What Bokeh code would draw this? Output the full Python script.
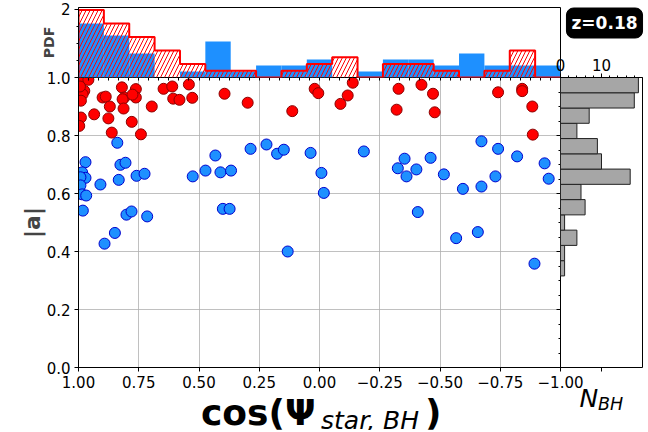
import numpy as np
from bokeh.plotting import figure
from bokeh.layouts import column
from bokeh.models import (Range1d, FixedTicker, LinearAxis, Label,
                          CustomJSTickFormatter)
from bokeh.embed import file_html
from bokeh.resources import INLINE

# ---------------- data ----------------
red_cos = [0.992, 0.959, 0.976, 0.983, 0.990, 0.990, 0.997, 0.935, 0.900, 0.994,
           0.887, 0.870, 0.876, 0.862, 0.820, 0.810, 0.817, 0.813,
           0.762, 0.762, 0.779, 0.741, 0.696, 0.776,
           0.647, 0.611, 0.607, 0.581, 0.542, 0.528, 0.394, 0.298, 0.113,
           0.020, 0.005, -0.138, -0.117, -0.087, -0.328, -0.320, -0.423, -0.471,
           -0.478, -0.741, -0.841, -0.841, -0.883, -0.885]
red_a = [0.997, 0.992, 0.954, 0.942, 0.920, 0.862, 0.833, 0.873, 0.931, 0.969,
         0.934, 0.900, 0.859, 0.810, 0.966, 0.931, 0.925, 0.893,
         0.960, 0.931, 0.847, 0.804, 0.900, 0.941,
         0.961, 0.969, 0.927, 0.923, 0.976, 0.930, 0.944, 0.913, 0.884,
         0.961, 0.946, 0.982, 0.938, 0.909, 0.961, 0.889, 0.975, 0.944,
         0.880, 0.949, 0.961, 0.953, 0.900, 0.803]
blue_cos = [0.971, 0.985, 0.971, 0.992, 0.992, 0.909, 0.985, 0.968, 0.982, 0.892,
            0.839, 0.826, 0.805, 0.833, 0.801, 0.849, 0.759, 0.726, 0.780, 0.715,
            0.526, 0.473, 0.432, 0.411, 0.401, 0.373, 0.367, 0.286, 0.220, 0.176,
            0.148, 0.132, 0.037, -0.008, -0.018, -0.184, -0.325, -0.353, -0.361,
            -0.402, -0.461, -0.408, -0.516, -0.567, -0.595, -0.672, -0.672, -0.657,
            -0.741, -0.730, -0.820, -0.892, -0.934, -0.951]
blue_a = [0.708, 0.673, 0.654, 0.656, 0.628, 0.631, 0.597, 0.593, 0.541, 0.427,
          0.775, 0.699, 0.706, 0.647, 0.527, 0.464, 0.661, 0.668, 0.538, 0.521,
          0.659, 0.679, 0.731, 0.673, 0.547, 0.547, 0.679, 0.754, 0.769, 0.737,
          0.751, 0.400, 0.740, 0.671, 0.602, 0.745, 0.687, 0.720, 0.659,
          0.683, 0.723, 0.536, 0.666, 0.446, 0.616, 0.780, 0.624, 0.467,
          0.754, 0.659, 0.728, 0.358, 0.704, 0.651]

n_bins = 19
# counts per cos bin, from cos=1 towards cos=-1
red_cos_counts = [10, 8, 6, 4, 2, 1, 1, 0, 1, 2, 3, 0, 2, 2, 1, 0, 1, 4, 0]
blue_cos_counts = [9, 7, 4, 0, 1, 6, 1, 2, 2, 3, 0, 1, 3, 3, 2, 4, 2, 2, 2]
# counts per |a| bin, from |a|=0 towards |a|=1
nbh_counts = [0, 0, 0, 0, 0, 0, 1, 1, 4, 1, 6, 5, 17, 10, 9, 4, 7, 18, 19]

x_ticks = [1.0, 0.75, 0.5, 0.25, 0.0, -0.25, -0.5, -0.75, -1.0]
y_ticks = [0.0, 0.2, 0.4, 0.6, 0.8, 1.0]
pdf_ticks = [2]
nbh_ticks = [0, 10]
redshift_label = "z=0.18"

# ---------------- derived ----------------
cos_edges = np.linspace(1, -1, n_bins + 1)
cos_w = 2.0 / n_bins
red_pdf = np.array(red_cos_counts) / (sum(red_cos_counts) * cos_w)
blue_pdf = np.array(blue_cos_counts) / (sum(blue_cos_counts) * cos_w)
a_edges = np.linspace(0, 1, n_bins + 1)
nbh = np.array(nbh_counts)

FONT = "DejaVu Sans"
TICK_FS = "15px"
RED, DRED = "#ff0000", "#8b0000"
BLUE, DBLUE = "#1e90ff", "#0000cd"
W, H = 646, 430          # every panel is a full-size layer; layers are stacked

x_rng = Range1d(1, -1)
a_rng = Range1d(0, 1)
TOP_MAX = 2.05
NBH_MAX = 20.0


def layer(transparent, **kw):
    f = figure(width=W, height=H, output_backend="svg", toolbar_location=None,
               tools="", **kw)
    if "frame_align" in f.properties():
        f.frame_align = False
    f.outline_line_color = "black"
    f.outline_line_width = 1
    f.grid.visible = False
    if transparent:
        f.background_fill_color = None
        f.border_fill_color = None
        f.margin = (-H, 0, 0, 0)
    else:
        f.background_fill_color = "white"
        f.border_fill_color = "white"
    return f


def style_axis(ax):
    ax.axis_line_color = "black"
    ax.major_tick_line_color = "black"
    ax.minor_tick_line_color = "black"
    ax.major_tick_in = 0
    ax.minor_tick_in = 0
    ax.major_tick_out = 4
    ax.minor_tick_out = 2
    ax.major_label_standoff = 4
    ax.major_label_text_font = FONT
    ax.major_label_text_font_size = TICK_FS
    ax.major_label_text_color = "black"


def tick_only_axis(minor, length, inward=True):
    ax = LinearAxis(ticker=FixedTicker(ticks=[], minor_ticks=minor))
    ax.axis_line_color = None
    ax.major_tick_line_color = None
    ax.minor_tick_line_color = "black"
    ax.minor_tick_in = length if inward else 0
    ax.minor_tick_out = 0 if inward else length
    ax.major_tick_in = 0
    ax.major_tick_out = 0
    ax.major_label_standoff = 0
    return ax


# ---------------- main scatter: frame x 78..560, y 77..367 ----------------
main = layer(False, x_range=x_rng, y_range=a_rng, min_border_left=78,
             min_border_right=W - 560, min_border_top=77,
             min_border_bottom=H - 367)
main.grid.visible = True
main.grid.grid_line_color = "#b0b0b0"
main.grid.grid_line_width = 0.8
main.scatter(blue_cos, blue_a, size=11, fill_color=BLUE, line_color=DBLUE,
             line_width=1)
main.scatter(red_cos, red_a, size=11, fill_color=RED, line_color=DRED,
             line_width=1)
main.xaxis.ticker = FixedTicker(ticks=x_ticks)
main.yaxis.ticker = FixedTicker(ticks=y_ticks)
main.xaxis.formatter = CustomJSTickFormatter(
    code="return tick.toFixed(2).replace('-', '\\u2212');")
main.yaxis.formatter = CustomJSTickFormatter(code="return tick.toFixed(1);")
for ax in (main.xaxis[0], main.yaxis[0]):
    style_axis(ax)
    ax.minor_tick_line_color = None
main.yaxis.axis_label = "|a|"
main.yaxis.axis_label_text_font = FONT
main.yaxis.axis_label_text_font_style = "bold"
main.yaxis.axis_label_text_font_size = "22px"
main.yaxis.axis_label_standoff = -1
top_minor = [float(v) for v in np.linspace(1, -1, 49)]
main.add_layout(tick_only_axis(top_minor, 3), "above")
a_minor = [float(v) for v in np.round(np.arange(0, 1.0001, 0.05), 2)]
main.add_layout(tick_only_axis(a_minor, 2), "right")
main.add_layout(tick_only_axis(y_ticks, 4), "right")

# ---------------- top histogram: frame x 78..560, y 7..77 ----------------
top = layer(True, x_range=x_rng, y_range=Range1d(0, TOP_MAX),
            x_axis_location=None, min_border_left=78, min_border_right=W - 560,
            min_border_top=7, min_border_bottom=H - 77)
top.quad(left=cos_edges[:-1], right=cos_edges[1:], bottom=0, top=blue_pdf,
         fill_color=BLUE, line_color=None)
top.quad(left=cos_edges[:-1], right=cos_edges[1:], bottom=0, top=red_pdf,
         fill_alpha=0, line_color=None, hatch_pattern="/", hatch_color=RED,
         hatch_scale=8, hatch_weight=1)
step_x = np.concatenate([[cos_edges[0]], cos_edges])
step_y = np.concatenate([[0], red_pdf, [red_pdf[-1]]])
top.step(step_x, step_y, mode="after", line_color=RED, line_width=2)
top.yaxis.ticker = FixedTicker(ticks=pdf_ticks, minor_ticks=[0, 0.5, 1.0, 1.5])
style_axis(top.yaxis[0])
top.yaxis.axis_label = "PDF"
top.yaxis.axis_label_text_font = FONT
top.yaxis.axis_label_text_font_style = "bold"
top.yaxis.axis_label_text_font_size = "14px"
top.yaxis.axis_label_standoff = 1

# ---------------- right histogram: frame x 560..642, y 77..367 ----------------
right = layer(True, x_range=Range1d(0, NBH_MAX), y_range=a_rng,
              x_axis_location=None, y_axis_location=None, min_border_left=560,
              min_border_right=W - 642, min_border_top=77,
              min_border_bottom=H - 367)
mask = nbh > 0
right.quad(left=0, right=nbh[mask], bottom=a_edges[:-1][mask],
           top=a_edges[1:][mask], fill_color="#a6a6a6", line_color="#222222",
           line_width=1)
nbh_minor = [2, 4, 6, 8, 12, 14, 16, 18]
above = LinearAxis(ticker=FixedTicker(ticks=nbh_ticks, minor_ticks=nbh_minor))
style_axis(above)
above.major_label_standoff = 3
right.add_layout(above, "above")
right.add_layout(tick_only_axis([10], 4, inward=False), "below")

# ---------------- free texts (a layer whose frame is the whole page) ----------------
txt = layer(True, x_range=Range1d(0, W), y_range=Range1d(H, 0),
            x_axis_location=None, y_axis_location=None, min_border_left=0,
            min_border_right=0, min_border_top=0, min_border_bottom=0)
txt.outline_line_color = None


def lab(text, x, baseline, size, **kw):
    # place by the wanted alphabetic baseline; labels are anchored at mid-height
    opts = dict(text_font=FONT, text_font_size="%gpx" % size, text_color="black",
                text_baseline="middle")
    opts.update(kw)
    txt.add_layout(Label(x=x, y=baseline - 0.346 * size, text=text, **opts))


lab("cos(\u03a8", 200.5, 424.5, 36, text_font_style="bold")
lab("star, BH", 320.5, 429, 25, text_font_style="italic")
lab(")", 424.5, 424.5, 36, text_font_style="bold")
lab("N", 579, 406.7, 25, text_font_style="italic")
lab("BH", 597.5, 409.5, 17.5, text_font_style="italic")
txt.add_layout(Label(x=604, y=22.5, text=redshift_label, text_font=FONT,
                     text_font_style="bold", text_font_size="17px",
                     text_color="white", text_align="center",
                     text_baseline="middle", background_fill_color="black",
                     border_line_color="black", padding=5, border_radius=7))

layout = column(main, top, right, txt)

open("out.html", "w").write(file_html(layout, INLINE))
